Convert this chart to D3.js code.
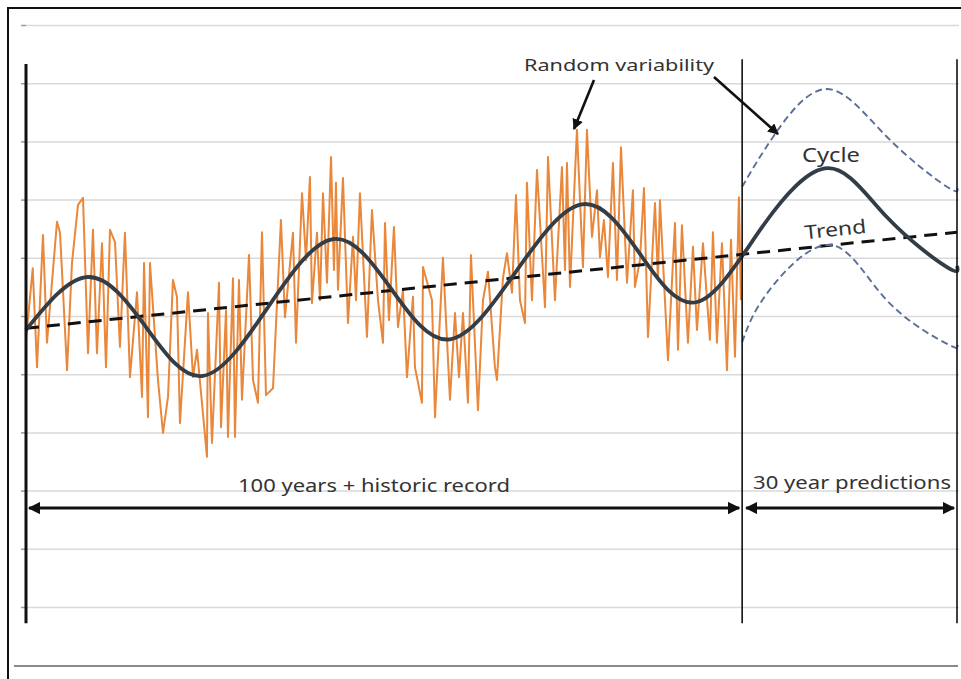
<!DOCTYPE html>
<html><head><meta charset="utf-8">
<script src="https://cdn.jsdelivr.net/npm/d3@7/dist/d3.min.js"></script>
<style>
html,body{margin:0;padding:0;background:#fff;}
svg{display:block;}
text{font-family:"Noto Sans","Open Sans",sans-serif;fill:#333;}
</style></head>
<body>
<svg id="chart" width="961" height="679"></svg>
<script>
// ---- data (years since start of record, arbitrary index 0..100) ----
const gridValues = [0,10,20,30,40,50,60,70,80,90,100];

const recordYears = [0,0.94,1.54,2.37,2.93,4.33,4.75,5.73,6.42,7.26,7.96,8.66,9.35,9.91,10.61,11.17,11.73,12.43,13.12,13.82,14.52,15.5,16.2,16.48,17.03,17.31,18.43,19.13,19.83,20.52,21.08,21.5,22.62,23.32,23.88,25.27,25.41,25.97,26.95,27.23,27.93,28.2,28.9,29.18,29.74,30.16,31.14,31.7,32.39,32.95,33.51,34.49,35.6,36.16,37.28,37.7,38.54,39.1,39.65,39.93,40.63,41.05,41.47,42.03,42.59,43.0,43.28,43.56,44.26,44.96,45.66,46.08,46.63,47.61,48.31,49.15,49.85,50.13,50.68,51.38,51.94,52.64,53.2,54.03,54.31,55.29,55.43,56.69,57.11,58.22,59.2,59.9,60.46,61.02,61.71,62.13,63.11,63.81,64.51,65.48,65.76,66.6,67.16,67.86,68.42,68.98,69.67,69.95,70.65,71.35,72.47,72.89,73.86,74.84,75.26,75.54,75.96,76.93,77.77,78.33,79.03,79.73,80.15,80.7,81.26,81.96,82.52,83.08,83.92,84.75,85.03,85.73,86.29,86.85,87.83,88.24,88.52,89.64,90.62,91.04,91.59,92.43,93.13,93.69,94.53,95.5,95.92,96.48,97.18,97.88,98.44,99.0,99.55,99.83];
const recordValues = [45.9,58.2,41.2,63.9,45.4,66.2,64.3,40.7,59.1,69.1,70.3,43.6,64.8,43.6,62.5,41.2,64.8,62.7,44.7,64.3,39.5,54.1,36.1,59.1,32.6,59.1,39.0,29.9,36.1,56.2,53.3,31.6,54.1,39.5,44.2,25.8,50.5,28.2,55.7,30.9,51.0,29.2,56.5,29.2,56.2,35.6,60.5,39.0,35.1,64.4,36.4,37.6,66.5,49.8,64.3,45.4,71.1,59.6,73.9,52.2,64.3,52.7,71.1,55.7,77.3,57.9,72.9,54.5,73.7,48.8,63.6,52.7,71.1,46.4,68.2,52.7,45.4,66.0,49.3,65.3,48.1,54.5,39.5,53.3,41.2,35.1,58.4,52.7,32.6,60.0,35.6,50.5,39.5,50.5,35.1,60.5,33.8,52.7,57.6,41.2,39.0,56.5,60.8,54.0,70.8,52.7,48.8,72.9,52.7,75.1,51.5,77.3,52.7,75.6,57.9,76.3,55.0,82.0,58.4,82.0,63.6,71.6,60.1,66.5,56.7,76.3,56.2,79.0,55.7,71.6,55.0,59.6,72.0,46.4,69.4,56.2,69.9,42.4,66.0,44.2,65.6,45.4,61.9,47.6,62.5,45.9,64.4,45.4,62.5,40.7,63.1,43.0,70.4,52.7];

const cycleYears  = [0,8.66,16.69,24.71,33.79,42.87,51.03,59.2,68.4,77.63,85.66,93.69,102.8,112.0,120.2,128.6,130];
const cycleValues = [47.6,56.7,48.2,39.7,51.5,63.2,54.6,46.0,57.6,69.2,60.8,52.4,65.3,75.4,67.0,58.4,58.6];

const trendYears  = [0,130];
const trendValues = [47.9,64.4];

const upperYears  = [100,104.5,111.8,120.2,128.6,130];
const upperValues = [72.2,81.1,89.0,80.8,72.2,72.2];
const lowerYears  = [100,103.6,112.3,120.2,129.0,130];
const lowerValues = [45.5,54.1,62.2,52.7,45.0,45.0];

const periodYears = [0,100,130];   // record start, present, end of predictions

// ---- drawing ----
const svg = d3.select("#chart");
const x = d3.scaleLinear().domain([0,130]).range([26,957]);
const y = d3.scaleLinear().domain([0,100]).range([607,25]);

// outer frame and bottom rule
svg.append("rect").attr("x",8).attr("y",8).attr("width",1000).attr("height",1000)
  .attr("fill","none").attr("stroke","#111").attr("stroke-width",2);
svg.append("line").attr("x1",14).attr("x2",958).attr("y1",666).attr("y2",666)
  .attr("stroke","#8a8a8a").attr("stroke-width",2);

// gridlines
const grid = svg.append("g").attr("transform",`translate(${x(0)},0)`)
  .call(d3.axisLeft(y).tickValues(gridValues).tickSize(-(x(130)-x(0)+2)).tickFormat(""));
grid.select(".domain").remove();
grid.selectAll(".tick line").attr("stroke","#d9d9d9").attr("stroke-width",1.5);
const ticks = svg.append("g").attr("transform",`translate(${x(0)},0)`)
  .call(d3.axisLeft(y).tickValues(gridValues).tickSize(5).tickFormat(""));
ticks.select(".domain").remove();
ticks.selectAll(".tick line").attr("stroke","#999").attr("stroke-width",1.5);

// record (orange)
const record = recordYears.map((t,i)=>[t,recordValues[i]]);
svg.append("path").datum(record)
  .attr("d", d3.line().x(d=>x(d[0])).y(d=>y(d[1])))
  .attr("fill","none").attr("stroke","#E9873A").attr("stroke-width",2)
  .attr("stroke-linejoin","round");

// trend
svg.append("path").datum(trendYears.map((t,i)=>[t,trendValues[i]]))
  .attr("d", d3.line().x(d=>x(d[0])).y(d=>y(d[1])))
  .attr("fill","none").attr("stroke","#111").attr("stroke-width",3)
  .attr("stroke-dasharray","13,8");

// cycle
svg.append("path").datum(cycleYears.map((t,i)=>[t,cycleValues[i]]))
  .attr("d", d3.line().curve(d3.curveNatural).x(d=>x(d[0])).y(d=>y(d[1])))
  .attr("fill","none").attr("stroke","#323d48").attr("stroke-width",3.8);

// prediction envelope
const bandLine = d3.line().curve(d3.curveNatural).x(d=>x(d[0])).y(d=>y(d[1]));
[[upperYears,upperValues],[lowerYears,lowerValues]].forEach(([ys,vs])=>{
  svg.append("path").datum(ys.map((t,i)=>[t,vs[i]]))
    .attr("d", bandLine).attr("fill","none").attr("stroke","#5a6f98")
    .attr("stroke-width",1.9).attr("stroke-dasharray","7,4");
});

// vertical period lines
periodYears.forEach((t,i)=>{
  svg.append("line").attr("x1",x(t)).attr("x2",x(t))
    .attr("y1",y(i===0?93.3:94.1)).attr("y2",y(-2.8))
    .attr("stroke","#111").attr("stroke-width",i===0?3:1.6);
});

// arrow markers
const defs = svg.append("defs");
defs.append("marker").attr("id","ah").attr("viewBox","0 0 10 10").attr("refX",9).attr("refY",5)
  .attr("markerWidth",4.2).attr("markerHeight",4.2).attr("orient","auto-start-reverse")
  .attr("markerUnits","strokeWidth")
  .append("path").attr("d","M0,0 L10,5 L0,10 Z").attr("fill","#111");

// span arrows
const spanY = y(17);
[[0,100],[100,130]].forEach(([a,b],i)=>{
  svg.append("line").attr("x1",x(a)+(i?4:3)).attr("x2",x(b)-3)
    .attr("y1",spanY).attr("y2",spanY)
    .attr("stroke","#111").attr("stroke-width",3)
    .attr("marker-start","url(#ah)").attr("marker-end","url(#ah)");
});

// labels
svg.append("text").attr("x",374).attr("y",492).attr("text-anchor","middle")
  .attr("font-size",18).attr("textLength",272).attr("lengthAdjust","spacingAndGlyphs")
  .text("100 years + historic record");
svg.append("text").attr("x",852).attr("y",489).attr("text-anchor","middle")
  .attr("font-size",18).attr("textLength",198).attr("lengthAdjust","spacingAndGlyphs")
  .text("30 year predictions");
svg.append("text").attr("x",619).attr("y",71).attr("text-anchor","middle")
  .attr("font-size",17).attr("textLength",190).attr("lengthAdjust","spacingAndGlyphs")
  .text("Random variability");
svg.append("text").attr("x",831).attr("y",162).attr("text-anchor","middle")
  .attr("font-size",19).attr("textLength",58).attr("lengthAdjust","spacingAndGlyphs")
  .text("Cycle");
svg.append("text").attr("transform","translate(836,236) rotate(-6)").attr("text-anchor","middle")
  .attr("font-size",19).attr("textLength",62).attr("lengthAdjust","spacingAndGlyphs")
  .text("Trend");

// pointer arrows from "Random variability"
svg.append("line").attr("x1",594).attr("y1",80).attr("x2",574).attr("y2",129)
  .attr("stroke","#111").attr("stroke-width",2.6).attr("marker-end","url(#ah)");
svg.append("line").attr("x1",714).attr("y1",77).attr("x2",778).attr("y2",134)
  .attr("stroke","#111").attr("stroke-width",2.6).attr("marker-end","url(#ah)");
</script>
</body></html>
